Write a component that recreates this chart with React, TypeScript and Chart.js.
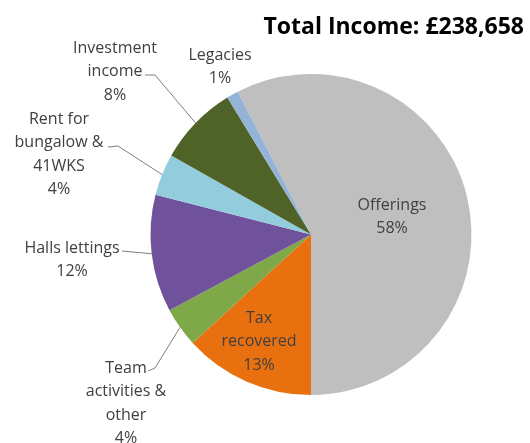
import React, { useEffect, useRef } from "react";
import Chart from "chart.js/auto";

const categories = [
  "Offerings",
  "Tax recovered",
  "Team activities & other",
  "Halls lettings",
  "Rent for bungalow & 41WKS",
  "Investment income",
  "Legacies",
];
const amounts = [137300, 31500, 9500, 28200, 10000, 19300, 2858];
const sliceColors = ["#BFBFBF", "#E8700F", "#7FA848", "#6F519C", "#93CDDD", "#4F6228", "#95B3D7"];
const labelLines = [
  ["Offerings"],
  ["Tax", "recovered"],
  ["Team", "activities &", "other"],
  ["Halls lettings"],
  ["Rent for", "bungalow &", "41WKS"],
  ["Investment", "income"],
  ["Legacies"],
];
const titleText = "Total Income: £238,658";

// where each data label sits (centre x, first line y) and the elbow of its leader line
const labelPlacement: { x: number; y: number; leader?: number[][] }[] = [
  { x: 392, y: 205 },
  { x: 259, y: 318 },
  { x: 126, y: 368, leader: [[148, 371], [155, 368]] },
  { x: 72, y: 248, leader: [[122, 251]] },
  { x: 59, y: 119, leader: [[108, 147], [118, 146]] },
  { x: 115, y: 48, leader: [[145, 75], [155, 75]] },
  { x: 220, y: 55 },
];

const LABEL_FONT = "16px 'Open Sans', 'Noto Sans', sans-serif";
const LINE_H = 23.5;

const pieLabels = {
  id: "pieLabels",
  afterDraw(chart: Chart) {
    const ctx = chart.ctx;
    const meta = chart.getDatasetMeta(0);
    const total = amounts.reduce((a, b) => a + b, 0);
    ctx.save();

    ctx.font = "bold 23px 'Open Sans', 'Noto Sans', sans-serif";
    ctx.fillStyle = "#000000";
    ctx.textAlign = "right";
    ctx.textBaseline = "alphabetic";
    ctx.fillText(titleText, 524, 34);

    ctx.font = LABEL_FONT;
    ctx.textAlign = "center";
    ctx.textBaseline = "middle";
    meta.data.forEach((el: any, i: number) => {
      const place = labelPlacement[i];
      const lines = [...labelLines[i], Math.round((amounts[i] / total) * 100) + "%"];
      ctx.fillStyle = "#404040";
      lines.forEach((t, k) => ctx.fillText(t, place.x, place.y + k * LINE_H));

      if (place.leader) {
        const { x, y, startAngle, endAngle, outerRadius } = el.getProps(
          ["x", "y", "startAngle", "endAngle", "outerRadius"],
          true
        );
        const mid = (startAngle + endAngle) / 2;
        const ex = x + Math.cos(mid) * outerRadius;
        const ey = y + Math.sin(mid) * outerRadius;
        ctx.strokeStyle = "#7F7F7F";
        ctx.lineWidth = 1;
        ctx.beginPath();
        place.leader.forEach((p, k) => (k === 0 ? ctx.moveTo(p[0], p[1]) : ctx.lineTo(p[0], p[1])));
        ctx.lineTo(ex, ey);
        ctx.stroke();
      }
    });
    ctx.restore();
  },
};

const IncomePie: React.FC = () => {
  const chartRef = useRef<HTMLCanvasElement>(null);
  const chartInstance = useRef<Chart>();

  useEffect(() => {
    if (chartRef.current) {
      if (chartInstance.current) {
        chartInstance.current.destroy();
      }
      const total = amounts.reduce((a, b) => a + b, 0);
      chartInstance.current = new Chart(chartRef.current, {
        type: "pie",
        data: {
          labels: categories,
          datasets: [
            {
              data: amounts,
              backgroundColor: sliceColors,
              borderWidth: 0,
            },
          ],
        },
        options: {
          responsive: true,
          maintainAspectRatio: false,
          animation: false,
          // first slice (Offerings) ends at 6 o'clock
          rotation: 180 - (360 * amounts[0]) / total,
          layout: { padding: { left: 150, right: 58, top: 74, bottom: 48 } },
          plugins: {
            legend: { display: false },
            title: { display: false },
            tooltip: { enabled: false },
          },
        },
        plugins: [pieLabels],
      });
    }

    return () => {
      if (chartInstance.current) {
        chartInstance.current.destroy();
      }
    };
  }, []);

  return (
    <div style={{ position: "absolute", left: 0, top: 0, width: "530px", height: "443px", background: "#fff" }}>
      <canvas ref={chartRef} />
    </div>
  );
};

export default function App() {
  return <IncomePie />;
}
